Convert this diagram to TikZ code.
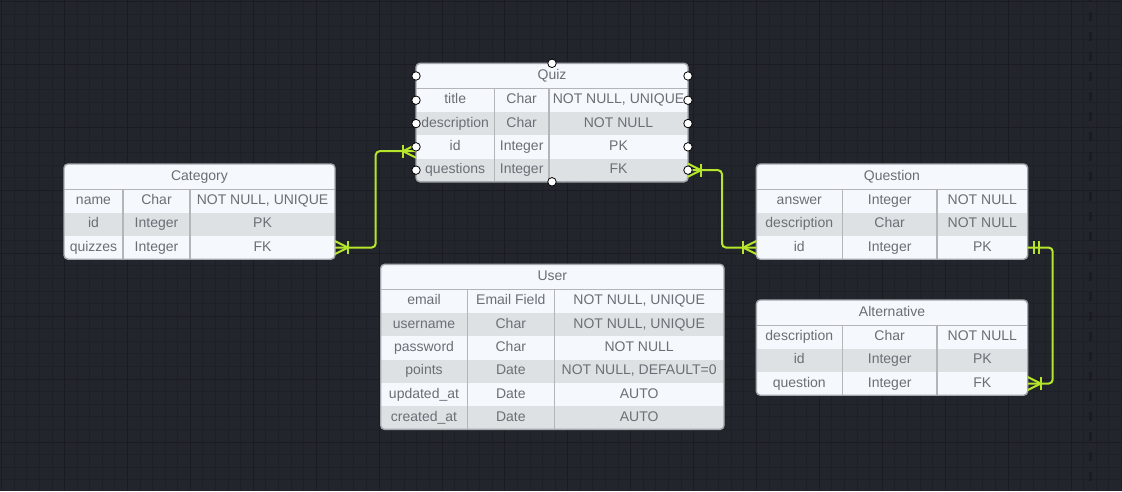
\documentclass[tikz,border=0pt]{standalone}
\usepackage{fontspec}
\setmainfont{Liberation Sans}
\usetikzlibrary{calc}
\definecolor{bg}{HTML}{22252C}
\definecolor{gridminor}{HTML}{1D2026}
\definecolor{gridmajor}{HTML}{1A1C21}
\definecolor{dashcol}{HTML}{1A1C21}
\definecolor{lightfill}{HTML}{F5F9FD}
\definecolor{rowgray}{HTML}{DEE1E4}
\definecolor{outercol}{HTML}{A4A7AB}
\definecolor{innercol}{HTML}{B3B5B8}
\definecolor{txt}{HTML}{6B6E75}
\definecolor{relgreen}{HTML}{B5E62B}
\tikzset{
  rowbox/.style={draw=none, inner sep=0pt, outer sep=0pt, minimum height=23.3pt},
  hdrbox/.style={draw=none, inner sep=0pt, outer sep=0pt, minimum height=25.3pt},
  frame/.style={draw=none, fill=lightfill, inner sep=0pt, outer sep=0pt, rounded corners=4pt},
  cell/.style={anchor=base, inner sep=0pt, outer sep=0pt, text=txt, font=\fontsize{14pt}{16pt}\selectfont},
  innerline/.style={draw=innercol, line width=1.6pt},
  outerline/.style={draw=outercol, line width=1.4pt, rounded corners=4pt},
  relline/.style={draw=relgreen, line width=2pt},
  handle/.style={circle, draw=black, fill=white, line width=0.8pt, inner sep=0pt, minimum size=8.5pt},
}
% #1 name, #2 L, #3 C1, #4 C2, #5 R, #6 T, #7 number of rows, #8 title, #9 rows
\newcommand\erdtab[9]{%
  \pgfmathsetmacro\tH{#6+25.3}%
  \pgfmathsetmacro\tB{\tH+#7*23.3}%
  \pgfmathsetmacro\tW{#5-#2}%
  \pgfmathsetmacro\tTot{\tB-#6}%
  \node[frame, minimum width=\tW pt, minimum height=\tTot pt, anchor=north west] (#1) at (#2,#6) {};
  \node[hdrbox, minimum width=\tW pt, anchor=north west] (#1-h) at (#2,#6) {};
  \pgfmathsetmacro\tx{(#2+#5)/2}%
  \pgfmathsetmacro\ty{#6+12.65+3.6}%
  \node[cell] (#1-title) at (\tx,\ty) {#8};
  \begin{scope}
    \clip[rounded corners=4pt] (#2,#6) rectangle (#5,\tB);
    \foreach \a/\b/\c [count=\i] in {#9} {
      \pgfmathsetmacro\yc{\tH+(\i-0.5)*23.3}
      \pgfmathsetmacro\yb{\yc+3.6}
      \pgfmathtruncatemacro\odd{mod(\i,2)}
      \ifnum\odd=0 \def\rf{rowgray}\else\def\rf{lightfill}\fi
      \node[rowbox, fill=\rf, minimum width=\tW pt, anchor=west] (#1-r\i) at (#2,\yc) {};
      \pgfmathsetmacro\xa{(#2+#3)/2}
      \pgfmathsetmacro\xb{(#3+#4)/2}
      \pgfmathsetmacro\xc{(#4+#5)/2}
      \node[cell] (#1-r\i-a) at (\xa,\yb) {\a};
      \node[cell] (#1-r\i-b) at (\xb,\yb) {\b};
      \node[cell] (#1-r\i-c) at (\xc,\yb) {\c};
    }
  \end{scope}
  \draw[innerline] (#2,\tH) -- (#5,\tH) (#3,\tH) -- (#3,\tB) (#4,\tH) -- (#4,\tB);
  \draw[outerline] (#1.north west) rectangle (#1.south east);
}
% crow's foot (one or many): #1 point on the entity edge, #2 direction (+1 / -1)
\newcommand\manyend[2]{%
  \draw[relline] ($(#1)+(0,-6.5)$) -- ($(#1)+(#2*13,0)$) -- ($(#1)+(0,6.5)$);
  \draw[relline] ($(#1)+(#2*13,-6.5)$) -- ($(#1)+(#2*13,6.5)$);
}
% one and only one
\newcommand\oneend[2]{%
  \draw[relline] ($(#1)+(#2*6.3,-6.5)$) -- ($(#1)+(#2*6.3,6.5)$);
  \draw[relline] ($(#1)+(#2*11.6,-6.5)$) -- ($(#1)+(#2*11.6,6.5)$);
}
\begin{document}
\begin{tikzpicture}[x=1pt,y=-1pt]
  \useasboundingbox (0,0) rectangle (1122,491);
  \fill[bg] (0,0) rectangle (1122,491);
  % grid
  \foreach \k in {0,...,89} {
    \pgfmathtruncatemacro\m{mod(\k,5)}
    \ifnum\m=0 \def\gc{gridmajor}\else\def\gc{gridminor}\fi
    \draw[draw=\gc, line width=1pt] (1.7+\k*12.58,0) -- (1.7+\k*12.58,491);
  }
  \foreach \k in {0,...,38} {
    \pgfmathtruncatemacro\m{mod(\k,5)}
    \ifnum\m=0 \def\gc{gridmajor}\else\def\gc{gridminor}\fi
    \draw[draw=\gc, line width=1pt] (0,1.7+\k*12.58) -- (1122,1.7+\k*12.58);
  }
  \draw[dashcol, line width=3pt, dash pattern=on 9pt off 11pt, dash phase=8.3pt] (1090,0) -- (1090,491);

  % tables
  \erdtab{quiz}{416}{494.3}{549}{688}{63.3}{4}{Quiz}{title/Char/{NOT NULL, UNIQUE}, description/Char/NOT NULL, id/Integer/PK, questions/Integer/FK}
  \erdtab{cat}{64}{123}{190}{335}{164}{3}{Category}{name/Char/{NOT NULL, UNIQUE}, id/Integer/PK, quizzes/Integer/FK}
  \erdtab{ques}{756.3}{842.3}{937}{1027.7}{164}{3}{Question}{answer/Integer/NOT NULL, description/Char/NOT NULL, id/Integer/PK}
  \erdtab{alt}{756.3}{842.3}{937}{1027.7}{300}{3}{Alternative}{description/Char/NOT NULL, id/Integer/PK, question/Integer/FK}
  \erdtab{user}{380.7}{467.3}{554.3}{724}{264.3}{6}{User}{email/Email Field/{NOT NULL, UNIQUE}, username/Char/{NOT NULL, UNIQUE}, password/Char/NOT NULL, points/Date/{NOT NULL, DEFAULT=0}, updated\_at/Date/AUTO, created\_at/Date/AUTO}

  % relationships
  \coordinate (quizin) at ([yshift=-4.3pt]quiz-r3.west);
  \draw[relline, rounded corners=4pt] (cat-r3.east) -- ++(40.7,0) |- (quizin);
  \manyend{cat-r3.east}{1}
  \manyend{quizin}{-1}

  \draw[relline, rounded corners=4pt] (quiz-r4.east) -- ++(34,0) |- (ques-r3.west);
  \manyend{quiz-r4.east}{1}
  \manyend{ques-r3.west}{-1}

  \draw[relline, rounded corners=4pt] (ques-r3.east) -- ++(25,0) |- (alt-r3.east);
  \oneend{ques-r3.east}{1}
  \manyend{alt-r3.east}{1}

  % selection handles of Quiz
  \node[handle] (qh-top) at (quiz.north) {};
  \node[handle] (qh-bot) at (quiz.south) {};
  \node[handle] (qh-hl) at (quiz-h.west) {};
  \node[handle] (qh-hr) at (quiz-h.east) {};
  \foreach \i in {1,...,4} {
    \node[handle] (qh-l\i) at (quiz-r\i.west) {};
    \node[handle] (qh-r\i) at (quiz-r\i.east) {};
  }
\end{tikzpicture}
\end{document}
